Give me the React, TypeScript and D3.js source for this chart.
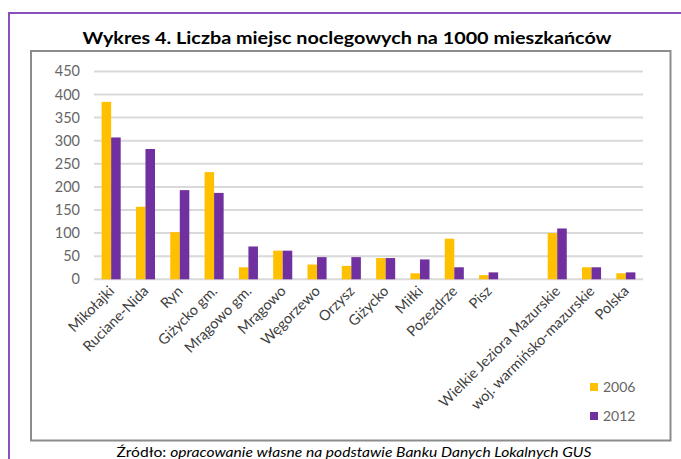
import React from 'react';
import * as d3 from 'd3';

// dane
const categories = [
  'Mikołajki',
  'Ruciane-Nida',
  'Ryn',
  'Giżycko gm.',
  'Mrągowo gm.',
  'Mrągowo',
  'Węgorzewo',
  'Orzysz',
  'Giżycko',
  'Miłki',
  'Pozezdrze',
  'Pisz',
  '',
  'Wielkie Jeziora Mazurskie',
  'woj. warmińsko-mazurskie',
  'Polska',
];
const values2006 = [384, 157, 102, 232, 26, 62, 32, 29, 46, 13, 88, 9, null, 100, 26, 13];
const values2012 = [307, 282, 193, 187, 71, 62, 48, 48, 46, 43, 26, 15, null, 110, 26, 15];
const seriesNames = ['2006', '2012'];
const seriesColors = ['#FFC000', '#7030A0'];
const yTicks = [0, 50, 100, 150, 200, 250, 300, 350, 400, 450];

const W = 681;
const H = 459;
const FONT = 'Lato, sans-serif';

export default function App() {
  const plotLeft = 94;
  const plotRight = 643;
  const plotTop = 71.4;
  const plotBottom = 279.3;

  const x0 = d3.scaleBand<string>().domain(categories.map((c, i) => `${i}`)).range([plotLeft, plotRight]).padding(0);
  const slot = x0.bandwidth();
  const x1 = d3
    .scaleBand<string>()
    .domain(seriesNames)
    .range([slot * 0.222, slot * 0.778])
    .padding(0);
  const y = d3.scaleLinear().domain([0, 450]).range([plotBottom, plotTop]);

  const series = [values2006, values2012];

  return (
    <svg width={W} height={H} style={{ position: 'absolute', left: 0, top: 0 }} fontFamily={FONT}>
      <rect width={W} height={H} fill="#fff" />
      {/* ramka zewnętrzna (fioletowa) */}
      <line x1={9} y1={13} x2={9} y2={H} stroke="#8A4FBF" strokeWidth={2} />
      <line x1={8} y1={13} x2={W} y2={13} stroke="#8A4FBF" strokeWidth={2} />

      {/* tytuł */}
      <text x={347} y={44} textAnchor="middle" fontSize={17.5} fontWeight="bold" fill="#000" textLength={529} lengthAdjust="spacingAndGlyphs">
        Wykres 4. Liczba miejsc noclegowych na 1000 mieszkańców
      </text>

      {/* ramka wykresu */}
      <rect x={31} y={51} width={639.5} height={389.5} fill="#fff" stroke="#8c8c8c" strokeWidth={2} />

      {/* siatka i oś Y */}
      {yTicks.map((t) => (
        <g key={t}>
          <line x1={plotLeft} x2={plotRight} y1={y(t)} y2={y(t)} stroke="#d9d9d9" strokeWidth={2} />
          <text x={80} y={y(t)} dy="0.35em" textAnchor="end" fontSize={14.5} fill="#666">
            {t}
          </text>
        </g>
      ))}

      {/* słupki */}
      {categories.map((c, i) => (
        <g key={i} transform={`translate(${x0(`${i}`)},0)`}>
          {series.map((s, k) => {
            const v = s[i];
            if (v == null) return null;
            return (
              <rect
                key={k}
                x={x1(seriesNames[k])}
                y={y(v)}
                width={x1.bandwidth()}
                height={y(0) - y(v)}
                fill={seriesColors[k]}
              />
            );
          })}
        </g>
      ))}

      {/* etykiety osi X */}
      {categories.map((c, i) =>
        c ? (
          <text
            key={i}
            transform={`translate(${(x0(`${i}`) as number) + slot / 2 + 4},${292}) rotate(-45)`}
            textAnchor="end"
            fontSize={14.5}
            fill="#404040">
            {c}
          </text>
        ) : null,
      )}

      {/* legenda */}
      {seriesNames.map((n, k) => (
        <g key={n} transform={`translate(590,${383 + k * 29})`}>
          <rect width={8} height={8} fill={seriesColors[k]} />
          <text x={13} y={4} dy="0.35em" fontSize={14} fill="#666">
            {n}
          </text>
        </g>
      ))}

      {/* źródło */}
      <text x={354} y={457} textAnchor="middle" fontSize={13.5} fill="#000" textLength={475} lengthAdjust="spacingAndGlyphs">
        Źródło: <tspan fontStyle="italic">opracowanie własne na podstawie Banku Danych Lokalnych GUS</tspan>
      </text>
    </svg>
  );
}
